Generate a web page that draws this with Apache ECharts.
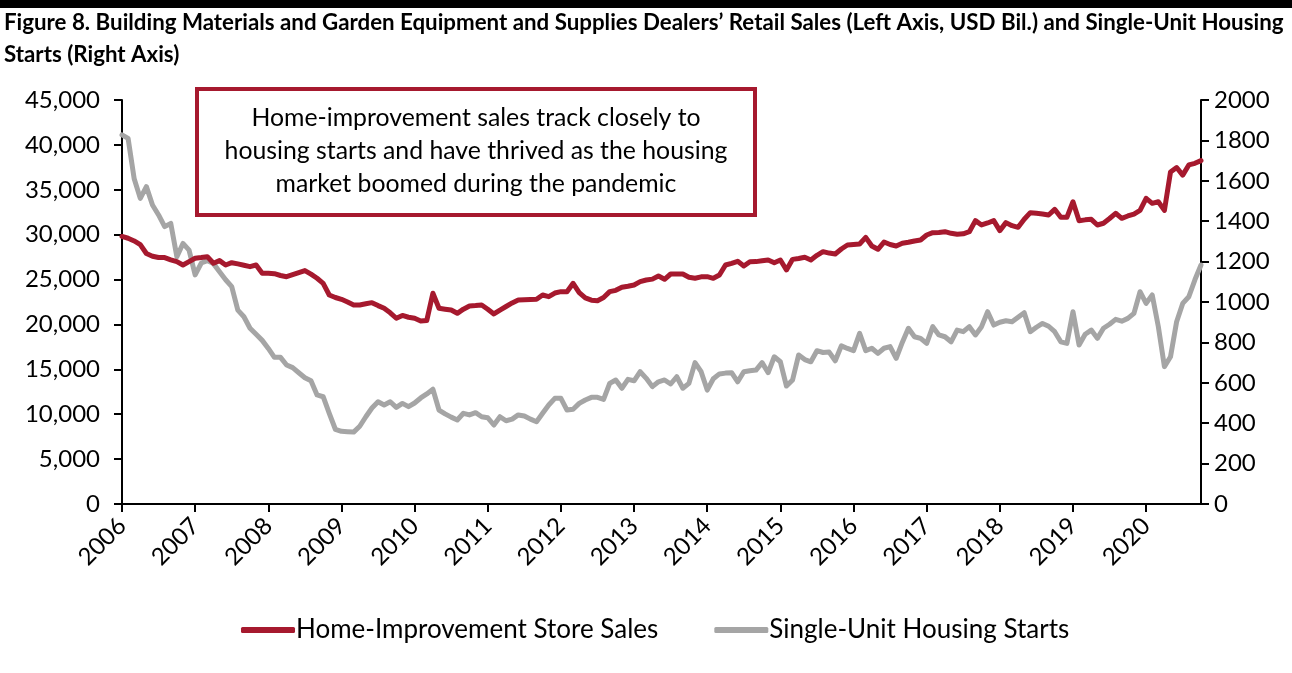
<!DOCTYPE html>
<html>
<head>
<meta charset="utf-8">
<script src="https://cdn.jsdelivr.net/npm/echarts@6/dist/echarts.min.js"></script>
<style>
html,body{margin:0;padding:0;background:#fff;}
#chart{width:1292px;height:673px;}
</style>
</head>
<body>
<div id="chart"></div>
<script>
// ---- Data (monthly, Jan 2006 - Oct 2020) ----
const startYear = 2006;
const salesValues = [
  // 2006
  29800, 29600, 29300, 28900, 27900, 27600, 27450, 27450, 27200, 27000, 26620, 27000,
  // 2007
  27370, 27450, 27550, 26810, 27110, 26620, 26880, 26750, 26600, 26440, 26620, 25700,
  // 2008
  25700, 25650, 25450, 25320, 25550, 25770, 26000, 25600, 25140, 24580, 23280, 23000,
  // 2009
  22800, 22500, 22170, 22170, 22300, 22430, 22100, 21800, 21300, 20690, 21000, 20800,
  // 2010
  20690, 20390, 20450, 23470, 21800, 21700, 21610, 21240, 21700, 22060, 22100, 22170,
  // 2011
  21700, 21170, 21600, 22000, 22400, 22730, 22750, 22780, 22800, 23280, 23090, 23500,
  // 2012
  23650, 23650, 24580, 23540, 22950, 22700, 22650, 23000, 23650, 23800, 24140, 24250,
  // 2013
  24400, 24770, 24950, 25050, 25400, 25030, 25620, 25620, 25620, 25250, 25140, 25300,
  // 2014
  25320, 25140, 25500, 26620, 26800, 27030, 26510, 26990, 27000, 27100, 27180, 26880,
  // 2015
  27180, 26070, 27250, 27350, 27480, 27180, 27700, 28110, 27950, 27850, 28400, 28850,
  // 2016
  28900, 28960, 29700, 28740, 28370, 29180, 28900, 28740, 29040, 29150, 29300, 29410,
  // 2017
  29960, 30220, 30250, 30330, 30150, 30040, 30100, 30330, 31560, 31080, 31300, 31560,
  // 2018
  30450, 31340, 31000, 30820, 31710, 32450, 32380, 32300, 32190, 32820, 31930, 31930,
  // 2019
  33670, 31560, 31650, 31710, 31080, 31270, 31800, 32380, 31820, 32080, 32300, 32710,
  // 2020
  34050, 33490, 33670, 32710, 36990, 37480, 36630, 37770, 37950, 38250
];
const startsValues = [
  // 2006
  1827, 1810, 1610, 1513, 1571, 1480, 1431, 1373, 1389, 1224, 1290, 1257,
  // 2007
  1134, 1193, 1205, 1190, 1150, 1110, 1076, 960, 927, 870, 840, 810,
  // 2008
  770, 726, 726, 688, 675, 650, 625, 610, 540, 531, 449, 370,
  // 2009
  360, 358, 356, 385, 432, 475, 506, 490, 506, 478, 498, 482,
  // 2010
  500, 525, 545, 568, 465, 446, 430, 416, 449, 441, 452, 432,
  // 2011
  427, 391, 432, 412, 420, 441, 436, 420, 407, 449, 490, 523,
  // 2012
  523, 465, 469, 498, 515, 528, 528, 518, 597, 614, 573, 617,
  // 2013
  610, 655, 622, 581, 605, 614, 594, 630, 573, 597, 700, 655,
  // 2014
  564, 620, 644, 648, 650, 605, 655, 660, 663, 700, 650, 729,
  // 2015
  704, 584, 614, 738, 715, 704, 759, 750, 752, 709, 783, 770,
  // 2016
  759, 845, 759, 771, 746, 771, 779, 721, 800, 870, 828, 820,
  // 2017
  795, 878, 837, 828, 803, 861, 853, 878, 837, 878, 952, 886,
  // 2018
  900, 907, 902, 925, 947, 853, 875, 894, 880, 853, 803, 795,
  // 2019
  952, 787, 840, 861, 820, 870, 890, 914, 905, 919, 944, 1051,
  // 2020
  993, 1035, 878, 680, 729, 902, 993, 1026, 1110, 1183
];
const categories = salesValues.map((_, i) => {
  const y = startYear + Math.floor(i / 12);
  const m = (i % 12) + 1;
  return y + '-' + (m < 10 ? '0' + m : m);
});
const seriesNames = ['Home-Improvement Store Sales', 'Single-Unit Housing Starts'];
const titleLine1 = 'Figure 8. Building Materials and Garden Equipment and Supplies Dealers\u2019 Retail Sales (Left Axis, USD Bil.) and Single-Unit Housing';
const titleLine2 = 'Starts (Right Axis)';
const noteLines = ['Home-improvement sales track closely to', 'housing starts and have thrived as the housing', 'market boomed during the pandemic'];

const RED = '#A6192E';
const GRAY = '#A5A5A5';
const FONT = 'Lato, "Open Sans", sans-serif';

const chart = echarts.init(document.getElementById('chart'), null, {renderer: 'canvas'});
const yearTick = (idx) => idx % 12 === 0;

chart.setOption({
  animation: false,
  backgroundColor: '#fff',
  textStyle: {fontFamily: FONT, color: '#000'},
  graphic: [
    {type: 'rect', left: 0, top: 0, shape: {width: 1292, height: 8}, style: {fill: '#000'}},
    {type: 'text', x: 4, y: 12, style: {text: titleLine1, font: 'bold 22.3px ' + FONT, fill: '#000'}},
    {type: 'text', x: 4, y: 44, style: {text: titleLine2, font: 'bold 22.3px ' + FONT, fill: '#000'}},
    {type: 'rect', x: 197, y: 89, z: 10,
     shape: {width: 558, height: 126}, style: {fill: '#fff', stroke: RED, lineWidth: 4}},
    {type: 'text', x: 476, y: 102, z: 11,
     style: {text: noteLines.join('\n'), font: '24.8px ' + FONT, fill: '#000', align: 'center', verticalAlign: 'top', lineHeight: 33}}
  ],
  legend: {
    left: 236, top: 612,
    itemWidth: 54, itemHeight: 6, itemGap: 56,
    icon: 'roundRect',
    textStyle: {fontSize: 26, color: '#000', fontFamily: FONT, padding: [0, 0, 0, -4]},
    data: seriesNames
  },
  grid: {left: 122, right: 91, top: 100, bottom: 169, containLabel: false},
  xAxis: {
    type: 'category',
    data: categories,
    boundaryGap: false,
    axisLine: {lineStyle: {color: '#000', width: 2}},
    axisTick: {show: true, interval: (i) => yearTick(i), length: 8, lineStyle: {color: '#000', width: 2}},
    axisLabel: {
      interval: (i) => yearTick(i), rotate: 45, fontSize: 24, color: '#000', margin: 18,
      formatter: (v) => v.slice(0, 4)
    },
    splitLine: {show: false}
  },
  yAxis: [
    {
      type: 'value', min: 0, max: 45000, interval: 5000, position: 'left',
      axisLine: {show: true, lineStyle: {color: '#000', width: 2}},
      axisTick: {show: true, length: 8, lineStyle: {color: '#000', width: 2}},
      axisLabel: {fontSize: 24, color: '#000', margin: 22,
        formatter: (v) => v.toLocaleString('en-US')},
      splitLine: {show: false}
    },
    {
      type: 'value', min: 0, max: 2000, interval: 200, position: 'right',
      axisLine: {show: true, lineStyle: {color: '#000', width: 2}},
      axisTick: {show: true, length: 8, lineStyle: {color: '#000', width: 2}},
      axisLabel: {fontSize: 24, color: '#000', margin: 13, formatter: (v) => String(v)},
      splitLine: {show: false}
    }
  ],
  series: [
    {
      name: seriesNames[0], type: 'line', yAxisIndex: 0, data: salesValues,
      showSymbol: false, symbol: 'none', smooth: false, z: 3,
      lineStyle: {color: RED, width: 5, join: 'round', cap: 'round'},
      itemStyle: {color: RED}
    },
    {
      name: seriesNames[1], type: 'line', yAxisIndex: 1, data: startsValues,
      showSymbol: false, symbol: 'none', smooth: false, z: 2,
      lineStyle: {color: GRAY, width: 5, join: 'round', cap: 'round'},
      itemStyle: {color: GRAY}
    }
  ]
});
</script>
</body>
</html>
